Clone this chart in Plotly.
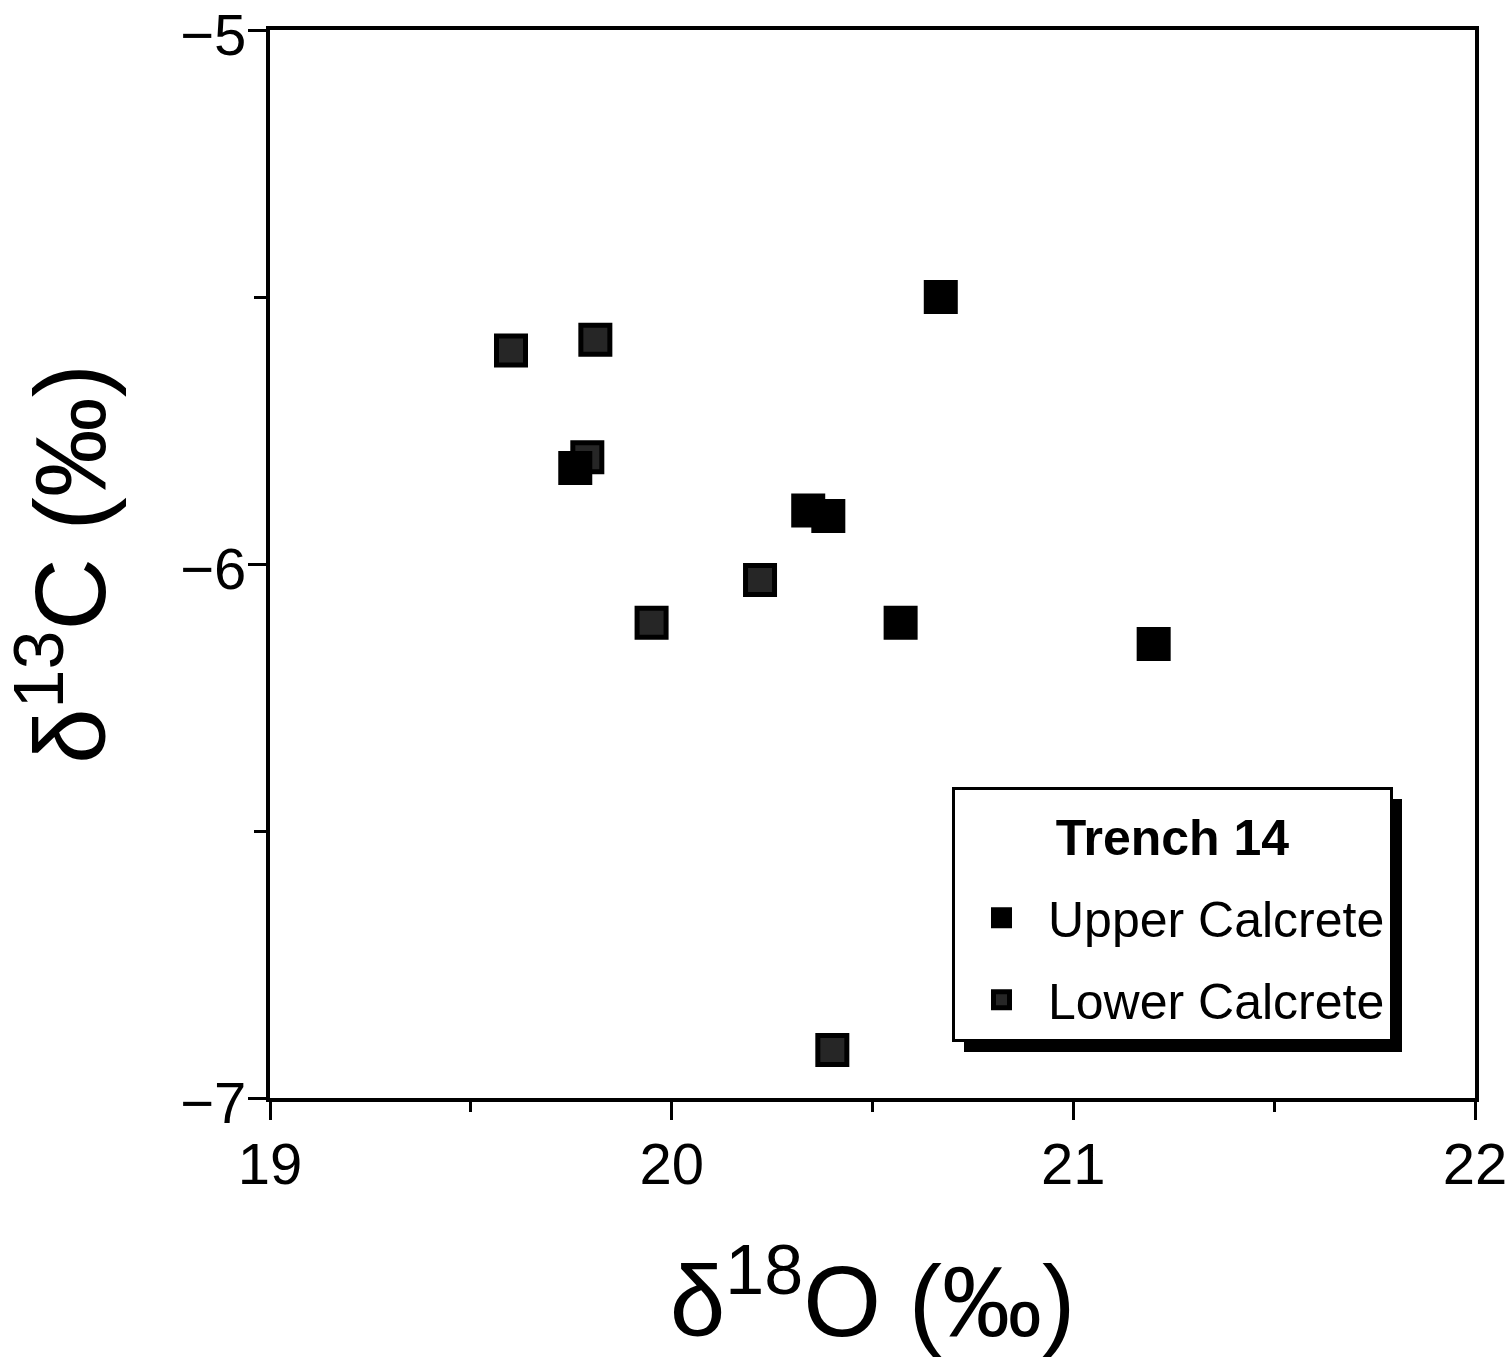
import plotly.graph_objects as go

# ---- data ----
upper_d18O = [19.76, 20.34, 20.39, 20.67, 20.57, 21.20]
upper_d13C = [-5.82, -5.90, -5.91, -5.50, -6.11, -6.15]

lower_d18O = [19.60, 19.81, 19.79, 20.22, 19.95, 20.40]
lower_d13C = [-5.60, -5.58, -5.80, -6.03, -6.11, -6.91]

x_ticks = [19, 20, 21, 22]
y_ticks = [-7, -6, -5]

W, H = 1508, 1370
ML, MT = 270, 30
MR = W - 1475
MB = H - 1098
PW, PH = W - ML - MR, H - MT - MB


def px_x(p):
    return (p - ML) / PW


def px_y(p):
    return (H - MB - p) / PH


FONT = "Liberation Sans, Arial, Helvetica, sans-serif"

fig = go.Figure()
fig.add_trace(go.Scatter(
    x=lower_d18O, y=lower_d13C, mode="markers", name="Lower Calcrete",
    legendrank=2, legendgroup="b",
    marker=dict(symbol="square", size=29, color="#262626",
                line=dict(color="#000000", width=5)),
))
fig.add_trace(go.Scatter(
    x=upper_d18O, y=upper_d13C, mode="markers", name="Upper Calcrete",
    legendrank=1, legendgroup="a",
    legendgrouptitle=dict(text=" ", font=dict(size=16)),
    marker=dict(symbol="square", size=29, color="#000000",
                line=dict(color="#000000", width=5)),
))

# legend shadow (legend box in page pixels: left/top, measured size)
L0, T0 = 952, 787
LEG_W, LEG_H = 438, 253
SH = 12
fig.add_shape(type="rect", xref="paper", yref="paper",
              x0=px_x(L0 + SH), x1=px_x(L0 + LEG_W + SH),
              y0=px_y(T0 + LEG_H + SH), y1=px_y(T0 + SH),
              fillcolor="black", line=dict(width=0), layer="above")

axis_common = dict(
    showline=True, linewidth=4, linecolor="black", mirror=True,
    ticks="outside", ticklen=18, tickwidth=3, tickcolor="black",
    showgrid=False, zeroline=False, ticklabeloverflow="allow",
    tickfont=dict(family=FONT, size=58, color="black"),
)


def lab(v):
    return str(v).replace("-", "\u2212")


fig.update_layout(
    width=W, height=H,
    margin=dict(l=ML, r=MR, t=MT, b=MB, autoexpand=False),
    plot_bgcolor="white", paper_bgcolor="white",
    font=dict(family=FONT, color="black"),
    xaxis=dict(range=[19, 22], tickvals=x_ticks, ticktext=[lab(v) for v in x_ticks],
               minor=dict(ticks="outside", ticklen=10, tickwidth=3, dtick=0.5,
                          tick0=19, tickcolor="black"),
               ticklabelstandoff=-6,
               title=dict(text="δ<sup>18</sup>O (‰)", standoff=72,
                          font=dict(family=FONT, size=100)),
               **axis_common),
    yaxis=dict(range=[-7, -5], tickvals=y_ticks, ticktext=[lab(v) for v in y_ticks],
               minor=dict(ticks="outside", ticklen=12, tickwidth=3, dtick=0.5,
                          tick0=-7, tickcolor="black"),
               ticklabelstandoff=-10, ticklabelshift=5,
               title=dict(text="δ<sup>13</sup>C (‰)", standoff=58,
                          font=dict(family=FONT, size=100)),
               **axis_common),
    legend=dict(
        x=px_x(L0), y=px_y(T0), xanchor="left", yanchor="top",
        bgcolor="white", bordercolor="black", borderwidth=3,
        font=dict(family=FONT, size=50, color="black"),
        title=dict(text="<b>Trench 14</b>", side="top center",
                   font=dict(family=FONT, size=50, color="black")),
        tracegroupgap=14, itemsizing="trace", itemwidth=83,
    ),
    showlegend=True,
)

fig.write_html("out.html", config={"displayModeBar": False},
               post_script="document.body.style.margin='0';")
